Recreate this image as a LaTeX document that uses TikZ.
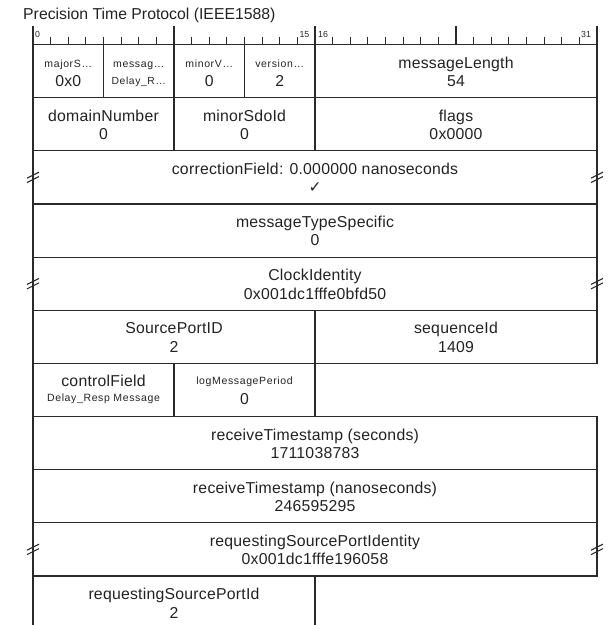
\documentclass[tikz,border=0pt]{standalone}
\usepackage{fontspec}
\setmainfont{Liberation Sans}
\newfontfamily\bigsp[LetterSpace=1.5]{Liberation Sans}
\newfontfamily\smallsp[LetterSpace=6]{Liberation Sans}
\newfontfamily\symfont{DejaVu Sans}
\definecolor{ln}{HTML}{2A2A2A}
\definecolor{tx}{HTML}{222222}
\tikzset{
  cell/.style={draw=ln, line width=1.15pt, rectangle, inner sep=0pt, outer sep=0pt},
  txt/.style={text=tx, inner sep=0pt, anchor=base},
  bn/.style={font=\bigsp\fontsize{15.8}{18}\selectfont, yshift=-23.5pt},
  bv/.style={font=\bigsp\fontsize{15.8}{18}\selectfont, yshift=-42pt},
  sn/.style={font=\smallsp\fontsize{10.5}{12}\selectfont, yshift=-22.8pt},
  sv/.style={font=\smallsp\fontsize{10.3}{12}\selectfont, yshift=-39.5pt},
  cn/.style={font=\bigsp\fontsize{15.8}{18}\selectfont, yshift=-23.5pt},
  mv/.style={font=\smallsp\fontsize{10.5}{12}\selectfont, yshift=-38.5pt},
  mn/.style={font=\smallsp\fontsize{10.5}{12}\selectfont, yshift=-20.6pt},
  lv/.style={font=\bigsp\fontsize{15.8}{18}\selectfont, yshift=-40.8pt},
  ck/.style={font=\symfont\fontsize{15.5}{17}\selectfont, yshift=-41.5pt},
  rul/.style={draw=ln, line width=1.15pt},
  brk/.style={draw=ln, line width=1.1pt},
  rlab/.style={text=tx, inner sep=0pt, anchor=north west, font=\fontsize{8.8}{10}\selectfont},
}
% #1 name, #2 left bit, #3 right bit, #4 row, #5 style, #6 text, #7 style, #8 text
\newcommand\fcell[8]{%
  \pgfmathsetmacro\fcW{(#3-#2)*17.625}%
  \pgfmathsetmacro\fcX{33+(#2+#3)*8.8125}%
  \pgfmathsetmacro\fcY{44.5+53.15*(#4+0.5)}%
  \node[cell, minimum width=\fcW pt, minimum height=53.15pt] (#1) at (\fcX,\fcY) {};
  \node[txt,#5] (#1-a) at (#1.north) {#6};
  \node[txt,#7] (#1-b) at (#1.north) {#8};
}
\begin{document}
\begin{tikzpicture}[x=1pt,y=-1pt]
\useasboundingbox (0,0) rectangle (613,625);
\clip (0,0) rectangle (613,625);

\node[text=tx, inner sep=0pt, anchor=base west, font=\fontsize{15.8}{18}\selectfont] (title) at (23,19.5) {Precision Time Protocol (IEEE1588)};

% ruler
\foreach \b in {1,...,7,9,10,...,15,17,18,...,23,25,26,...,31}
  \draw[rul] (33+\b*17.625,36.7) -- (33+\b*17.625,44.5);
\foreach \b in {8,24}
  \draw[rul] (33+\b*17.625,26) -- (33+\b*17.625,44.5);
\foreach \b in {0,16,32}
  \draw[rul] (33+\b*17.625,25.5) -- (33+\b*17.625,44.5);
\node[rlab] (r0) at (35,31.5) {0};
\node[rlab] (r15) at (299.3,31) {15};
\node[rlab] (r16) at (318,31) {16};
\node[rlab] (r31) at (581,31) {31};

% row 0
\fcell{major}{0}{4}{0}{sn}{majorS…}{bv}{0x0}
\fcell{mtype}{4}{8}{0}{sn}{messag…}{sv}{Delay\_R…}
\fcell{minorv}{8}{12}{0}{sn}{minorV…}{bv}{0}
\fcell{version}{12}{16}{0}{sn}{version…}{bv}{2}
\fcell{mlen}{16}{32}{0}{bn}{messageLength}{bv}{54}
% row 1
\fcell{domain}{0}{8}{1}{bn}{domainNumber}{bv}{0}
\fcell{sdo}{8}{16}{1}{bn}{minorSdoId}{bv}{0}
\fcell{flags}{16}{32}{1}{bn}{flags}{bv}{0x0000}
% row 2
\fcell{corr}{0}{32}{2}{bn}{correctionField: 0.000000 nanoseconds}{ck}{✓}
% row 3
\fcell{mts}{0}{32}{3}{bn}{messageTypeSpecific}{bv}{0}
% row 4
\fcell{clock}{0}{32}{4}{bn}{ClockIdentity}{bv}{0x001dc1fffe0bfd50}
% row 5
\fcell{spid}{0}{16}{5}{bn}{SourcePortID}{bv}{2}
\fcell{seq}{16}{32}{5}{bn}{sequenceId}{bv}{1409}
% row 6
\fcell{ctrl}{0}{8}{6}{cn}{controlField}{mv}{Delay\_Resp Message}
\fcell{lmp}{8}{16}{6}{mn}{logMessagePeriod}{lv}{0}
% rows 7-10
\fcell{rts}{0}{32}{7}{bn}{receiveTimestamp (seconds)}{bv}{1711038783}
\fcell{rtn}{0}{32}{8}{bn}{receiveTimestamp (nanoseconds)}{bv}{246595295}
\fcell{rspi}{0}{32}{9}{bn}{requestingSourcePortIdentity}{bv}{0x001dc1fffe196058}
\fcell{rspid}{0}{16}{10}{bn}{requestingSourcePortId}{bv}{2}

% break marks
\foreach \n in {corr,clock,rspi}{
  \foreach \a in {west,east}{
    \draw[brk] ([shift={(-6pt,-0.8pt)}]\n.\a) -- ([shift={(6pt,5.2pt)}]\n.\a);
    \draw[brk] ([shift={(-6pt,-5.2pt)}]\n.\a) -- ([shift={(6pt,0.8pt)}]\n.\a);
  }
}
\end{tikzpicture}
\end{document}
